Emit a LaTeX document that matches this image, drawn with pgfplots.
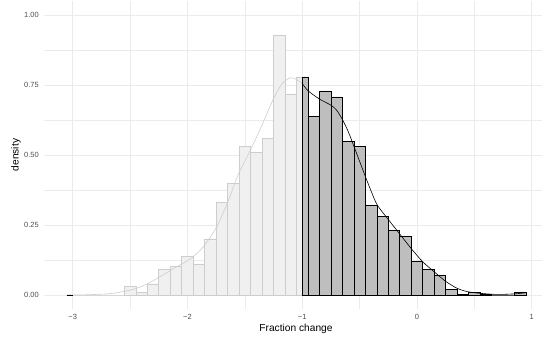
\documentclass[border=0pt]{standalone}
\usepackage{pgfplots}
\pgfplotsset{compat=1.18}
\usepackage{fontspec}
\setmainfont{Liberation Sans}
\definecolor{gridc}{HTML}{EBEBEB}
\definecolor{lightfill}{HTML}{F0F0F0}
\definecolor{lightline}{HTML}{CDCDCD}
\definecolor{darkfill}{HTML}{BEBEBE}
\definecolor{ticklab}{HTML}{4D4D4D}
\begin{document}
\begin{tikzpicture}
\useasboundingbox (0,0) rectangle (542pt,339pt);
\begin{axis}[
  at={(44pt,30pt)}, anchor=south west,
  scale only axis, width=498pt, height=308pt,
  xmin=-3.25, xmax=1.09, ymin=-0.05, ymax=1.05,
  axis line style={draw=none},
  major tick length=0pt, minor tick length=0pt,
  xtick={-3,-2,-1,0,1}, xticklabels={−3,−2,−1,0,1},
  minor xtick={-2.5,-1.5,-0.5,0.5},
  ytick={0,0.25,0.5,0.75,1}, yticklabels={0.00,0.25,0.50,0.75,1.00},
  minor ytick={0.125,0.375,0.625,0.875},
  grid=both,
  major grid style={gridc, line width=0.75pt},
  minor grid style={gridc, line width=0.4pt},
  tick label style={font=\fontsize{7.5}{9}\selectfont, text=ticklab},
  xticklabel style={anchor=north, inner sep=0pt, yshift=-5pt},
  yticklabel style={anchor=east, inner sep=0pt, xshift=-5pt},
  every axis x label/.style={at={(axis description cs:0.506,-0.0737)}, anchor=base},
  every axis y label/.style={at={(axis description cs:-0.0512,0.5)}, rotate=90, anchor=base},
  label style={font=\fontsize{10.2}{12}\selectfont},
  xlabel={Fraction change}, ylabel={density},
]
% light histogram (x < -1)
\addplot[ybar interval, fill=lightfill, draw=lightline, line width=0.5pt] coordinates {
(-3.05,0) (-2.95,0) (-2.85,0) (-2.75,0) (-2.65,0)
(-2.55,0.031) (-2.45,0.0095) (-2.35,0.040) (-2.25,0.092) (-2.15,0.101)
(-2.05,0.140) (-1.95,0.111) (-1.85,0.200) (-1.75,0.330) (-1.65,0.399)
(-1.55,0.530) (-1.45,0.510) (-1.35,0.560) (-1.25,0.929) (-1.15,0.718)
(-1.05,0.779) (-0.95,0.779)
};
% light density
\addplot[lightline, line width=0.6pt, smooth, tension=0.5] coordinates {
(-3.05,0.0) (-2.9,0.0006) (-2.8,0.002) (-2.67,0.005) (-2.54,0.014) (-2.44,0.024)
(-2.34,0.042) (-2.24,0.065) (-2.15,0.087) (-2.05,0.111) (-1.96,0.133)
(-1.86,0.173) (-1.75,0.240) (-1.65,0.330) (-1.56,0.428) (-1.45,0.518)
(-1.35,0.607) (-1.26,0.692) (-1.18,0.752) (-1.10,0.776) (-1.04,0.767) (-0.98,0.750)
};
% dark histogram (x > -1)
\addplot[ybar interval, fill=darkfill, draw=black, line width=0.5pt] coordinates {
(-1.0,0.779) (-0.95,0.638) (-0.85,0.729) (-0.75,0.708) (-0.65,0.549) (-0.55,0.530)
(-0.45,0.319) (-0.35,0.280) (-0.25,0.230) (-0.15,0.210) (-0.05,0.120) (0.05,0.092)
(0.15,0.071) (0.25,0.020) (0.35,0.003) (0.45,0.010) (0.55,0.002) (0.65,0) (0.75,0)
(0.85,0.011) (0.95,0.011)
};
\addplot[black, line width=0.8pt] coordinates {(-3.05,0) (-3.0,0)};
% dark density
\addplot[black, line width=0.6pt, smooth, tension=0.5] coordinates {
(-1.0,0.756) (-0.95,0.730) (-0.85,0.700) (-0.75,0.678) (-0.70,0.660) (-0.65,0.627)
(-0.60,0.585) (-0.55,0.532) (-0.50,0.478) (-0.45,0.424) (-0.40,0.372) (-0.345,0.321)
(-0.25,0.270) (-0.15,0.218) (-0.05,0.166) (0.05,0.119) (0.15,0.083) (0.25,0.049)
(0.35,0.024) (0.44,0.012) (0.55,0.006) (0.70,0.002) (0.85,0.004) (0.95,0.008)
};
\end{axis}
\end{tikzpicture}
\end{document}
